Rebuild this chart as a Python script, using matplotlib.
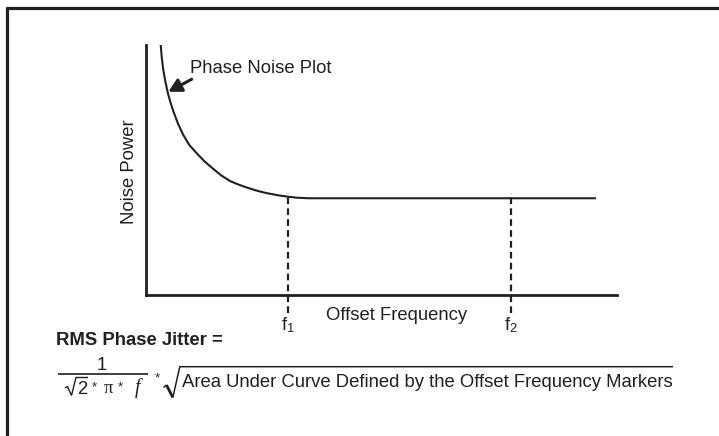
import matplotlib
matplotlib.use("Agg")
import matplotlib.pyplot as plt
from matplotlib.lines import Line2D

plt.rcParams['font.family'] = ['Liberation Sans', 'DejaVu Sans']
plt.rcParams['mathtext.fontset'] = 'custom'
plt.rcParams['mathtext.rm'] = 'Liberation Sans'
plt.rcParams['mathtext.it'] = 'Liberation Serif:italic'

# ---- data (arbitrary units) ----
noise_x = [3.12, 3.35, 3.67, 4.10, 4.61, 5.20, 5.80, 6.80, 7.92, 9.20, 10.76, 12.5,
           14.44, 16.0, 17.83, 19.6, 21.38, 23.4, 25.5, 28.0, 30.2, 32.2, 34.5, 95.3]
noise_y = [100, 95, 90, 85.5, 81, 77, 73.5, 68.5, 64, 60, 56.7, 53.3,
           50.2, 47.8, 45.6, 44.2, 43.0, 41.8, 40.8, 39.9, 39.3, 38.9, 38.7, 38.7]
marker_x = [30.15, 77.6]
marker_labels = [r'$\mathrm{f}_{\mathrm{1}}$', r'$\mathrm{f}_{\mathrm{2}}$']
marker_top = 40.9
marker_bottom = -7.2

INK = '#231f20'
W, H = 719, 436
fig = plt.figure(figsize=(W / 100, H / 100), dpi=100)

def fx(px):
    return px / W

def fy(py):
    return 1 - py / H

def fline(xs, ys, lw):
    fig.add_artist(Line2D([fx(v) for v in xs], [fy(v) for v in ys], color=INK, lw=lw,
                          solid_joinstyle='miter', solid_capstyle='butt'))

# outer frame (top and left edges visible)
fline([6, 719], [8, 8], 2.3)
fline([7.2, 7.2], [7, 436], 2.3)

ax = fig.add_axes([fx(146), fy(295), (617 - 146) / W, (295 - 45) / H])
ax.set_xlim(0, 100)
ax.set_ylim(0, 100)
for s in ['top', 'right']:
    ax.spines[s].set_visible(False)
for s in ['left', 'bottom']:
    ax.spines[s].set_linewidth(2.0)
    ax.spines[s].set_color(INK)
ax.set_xticks([])
ax.set_yticks([])
ax.patch.set_alpha(0)

ax.plot(noise_x, noise_y, color=INK, lw=1.5, solid_joinstyle='round')
ax.vlines(marker_x, marker_bottom, marker_top, colors=INK, lw=1.6,
          linestyles=(0, (3.0, 1.9)), clip_on=False)

# arrow to the curve
ax.annotate('', xy=(4.75, 81.3), xytext=(9.7, 86.3),
            arrowprops=dict(arrowstyle='-|>,head_length=0.55,head_width=0.3',
                            lw=2.2, color=INK, shrinkA=0, shrinkB=0,
                            mutation_scale=14))

FS = 13.3
fig.text(fx(190), fy(73.3), 'Phase Noise Plot', fontsize=FS, color=INK,
         ha='left', va='baseline')
fig.text(fx(326), fy(320), 'Offset Frequency', fontsize=FS, color=INK,
         ha='left', va='baseline')
fig.text(fx(130), fy(172), 'Noise Power', fontsize=FS, color=INK,
         ha='center', va='center', rotation=90)

for mx, lab in zip(marker_x, marker_labels):
    px = 146 + mx * 4.71
    fig.text(fx(px - 7), fy(330), lab, fontsize=FS, color=INK,
             ha='left', va='baseline')

fig.text(fx(56), fy(345), 'RMS Phase Jitter =', fontsize=FS, color=INK,
         fontweight='bold', ha='left', va='baseline')

# ---- formula ----
fig.text(fx(101.5), fy(370), '1', fontsize=FS, color=INK, ha='center', va='baseline')
fline([58, 148], [374, 374], 1.2)
# denominator: sqrt(2) * pi * f
fline([65, 67.5, 71.5, 76, 88], [388, 386.5, 395.5, 377.5, 377.5], 1.0)
fig.text(fx(77), fy(394), '2', fontsize=FS, color=INK, ha='left', va='baseline')
fig.text(fx(94), fy(390), '*', fontsize=9.5, color=INK, ha='center', va='baseline')
fig.text(fx(108), fy(393), 'π', fontsize=FS, color=INK, family='Liberation Serif',
         ha='center', va='baseline')
fig.text(fx(120), fy(390), '*', fontsize=9.5, color=INK, ha='center', va='baseline')
fig.text(fx(138), fy(393), 'f', fontsize=FS + 1, color=INK, family='Liberation Serif',
         style='italic', ha='center', va='baseline')
# multiplication sign between fraction and radical
fig.text(fx(157), fy(381), '*', fontsize=9.5, color=INK, ha='center', va='baseline')
# big radical
fline([163.5, 166.5], [387.5, 385], 1.1)
fline([166.5, 172.8], [385, 397.5], 2.0)
fline([172.8, 179.8, 673], [397.5, 366.7, 366.7], 1.1)
fig.text(fx(181.5), fy(386.7),
         'Area Under Curve Defined by the Offset Frequency Markers',
         fontsize=FS, color=INK, ha='left', va='baseline')

fig.savefig('out.png', dpi=100)
